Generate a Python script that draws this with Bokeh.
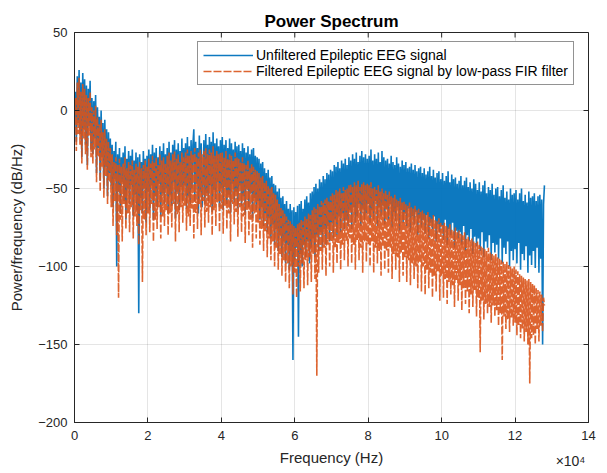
import math
from bokeh.plotting import figure
from bokeh.models import FixedTicker, Legend, LegendItem, Range1d, LinearAxis
from bokeh.embed import file_html
from bokeh.resources import INLINE

# ---------------- data ----------------
bin_step_hz = 250

unfiltered_db = [
    -5, 12, -20, 22, -8, 26, -15, 18, -30, 24, -12, 20, -22, 16, -35, 14, -10, 19, -25, 8,
    -28, 6, -18, 10, -40, 2, -24, -4, -45, 0, -30, -8, -50, -6, -36, -12, -55, -14, -40, -18,
    -48, -22, -62, -26, -44, -20, -100, -28, -52, -24, -66, -30, -46, -27, -58, -23, -70, -31, -50, -26,
    -60, -29, -48, -25, -68, -32, -54, -27, -64, -30, -130, -28, -56, -33, -66, -26, -50, -31, -72, -29,
    -52, -25, -64, -28, -48, -22, -70, -27, -55, -24, -62, -30, -47, -23, -68, -26, -53, -21, -60, -28,
    -50, -24, -66, -20, -54, -27, -61, -22, -46, -19, -69, -25, -52, -21, -64, -26, -49, -18, -58, -24,
    -48, -21, -63, -17, -55, -23, -60, -19, -50, -22, -12, -58, -20, -47, -24, -66, -16, -52, -21, -62,
    -45, -19, -60, -15, -53, -22, -58, -17, -48, -20, -65, -14, -51, -21, -57, -18, -46, -23, -62, -19,
    -50, -17, -64, -22, -49, -19, -60, -24, -54, -18, -66, -21, -47, -25, -59, -20, -52, -23, -63, -22,
    -48, -26, -61, -21, -55, -24, -67, -27, -50, -23, -62, -28, -53, -25, -69, -24, -56, -29, -64, -30,
    -58, -31, -70, -34, -62, -33, -74, -37, -66, -40, -78, -38, -69, -43, -82, -42, -73, -47, -86, -48,
    -76, -52, -90, -50, -80, -56, -94, -55, -84, -60, -98, -58, -86, -63, -102, -60, -90, -64, -160, -62,
    -96, -65, -88, -61, -145, -60, -92, -58, -100, -63, -86, -57, -94, -55, -84, -59, -98, -53, -88, -52,
    -82, -49, -94, -47, -80, -50, -90, -44, -78, -46, -88, -42, -76, -44, -86, -40, -74, -41, -84, -38,
    -72, -39, -82, -35, -70, -36, -80, -33, -68, -37, -78, -32, -66, -34, -76, -31, -70, -35, -74, -30,
    -64, -32, -76, -28, -62, -31, -72, -27, -68, -33, -60, -29, -74, -26, -63, -30, -70, -28, -66, -31,
    -60, -29, -72, -25, -64, -32, -70, -28, -58, -31, -74, -27, -62, -33, -68, -26, -61, -30, -73, -32,
    -63, -31, -70, -34, -60, -29, -75, -33, -65, -35, -71, -30, -62, -34, -77, -36, -64, -32, -72, -35,
    -66, -33, -74, -37, -63, -36, -78, -34, -68, -38, -73, -35, -65, -39, -80, -37, -69, -36, -75, -40,
    -70, -37, -79, -41, -67, -39, -82, -36, -72, -42, -76, -38, -68, -43, -84, -40, -73, -39, -78, -44,
    -74, -40, -83, -45, -70, -42, -86, -39, -76, -46, -80, -41, -72, -44, -88, -43, -77, -47, -82, -45,
    -78, -42, -86, -48, -74, -45, -90, -43, -80, -49, -84, -46, -76, -50, -92, -44, -81, -47, -87, -51,
    -82, -46, -90, -52, -78, -48, -94, -45, -84, -53, -88, -49, -80, -51, -96, -47, -85, -54, -91, -50,
    -86, -49, -95, -55, -82, -51, -98, -48, -88, -56, -92, -52, -84, -57, -100, -50, -90, -54, -96, -53,
    -89, -51, -98, -57, -85, -53, -102, -50, -92, -58, -96, -54, -87, -59, -104, -52, -93, -56, -99, -55,
    -90, -53, -101, -58, -88, -55, -104, -54, -95, -57, -150, -60, -48,
]

filtered_db = [
    -12, 8, -26, 18, -15, 21, -22, 12, -34, 17, -18, 14, -28, 10, -38, 8, -16, 12, -30, 2,
    -34, 0, -25, 3, -46, -4, -30, -9, -52, -6, -36, -14, -56, -12, -42, -18, -60, -20, -46, -24,
    -62, -28, -74, -33, -58, -30, -80, -35, -120, -31, -70, -36, -84, -34, -60, -30, -76, -37, -66, -33,
    -78, -35, -62, -32, -82, -38, -68, -34, -74, -36, -86, -33, -64, -37, -110, -35, -70, -32, -80, -36,
    -66, -31, -78, -34, -60, -29, -84, -33, -70, -30, -76, -35, -62, -28, -82, -32, -68, -30, -74, -34,
    -64, -29, -80, -27, -66, -32, -75, -28, -60, -26, -84, -31, -67, -28, -78, -33, -62, -27, -72, -30,
    -61, -27, -77, -25, -68, -29, -74, -26, -63, -28, -82, -24, -66, -30, -76, -27, -60, -25, -80, -28,
    -58, -26, -75, -24, -65, -28, -72, -25, -62, -27, -80, -23, -64, -29, -74, -26, -59, -28, -78, -27,
    -63, -27, -79, -30, -61, -26, -76, -31, -66, -28, -84, -29, -60, -32, -73, -27, -65, -30, -81, -31,
    -62, -33, -78, -30, -68, -34, -85, -35, -64, -32, -80, -37, -70, -34, -88, -36, -66, -38, -82, -39,
    -72, -40, -86, -43, -76, -42, -90, -46, -78, -45, -94, -48, -82, -50, -96, -49, -84, -53, -100, -54,
    -88, -57, -102, -60, -92, -62, -106, -64, -96, -66, -110, -68, -98, -70, -114, -71, -100, -73, -118, -74,
    -104, -75, -120, -73, -100, -72, -116, -70, -98, -71, -114, -68, -96, -69, -112, -66, -94, -67, -110, -64,
    -92, -62, -108, -63, -170, -60, -104, -61, -90, -58, -102, -59, -88, -57, -106, -56, -86, -58, -100, -55,
    -84, -53, -104, -54, -88, -51, -98, -52, -85, -50, -102, -53, -86, -49, -96, -51, -84, -50, -100, -48,
    -82, -47, -98, -49, -86, -46, -102, -48, -83, -45, -96, -49, -88, -47, -104, -46, -84, -48, -97, -47,
    -86, -48, -100, -46, -84, -50, -104, -49, -88, -51, -98, -48, -90, -52, -106, -50, -87, -53, -102, -51,
    -90, -54, -104, -52, -88, -55, -108, -56, -92, -54, -102, -57, -94, -58, -110, -56, -91, -59, -106, -58,
    -94, -60, -110, -61, -96, -59, -112, -62, -98, -63, -108, -61, -100, -64, -114, -63, -97, -65, -116, -64,
    -100, -66, -118, -67, -102, -65, -114, -68, -104, -69, -120, -67, -106, -70, -116, -71, -103, -69, -122, -72,
    -106, -73, -120, -72, -108, -74, -124, -75, -110, -73, -118, -76, -112, -77, -126, -75, -109, -78, -122, -77,
    -112, -79, -128, -80, -114, -78, -124, -82, -116, -81, -130, -83, -118, -82, -126, -84, -115, -85, -132, -84,
    -120, -86, -155, -87, -122, -88, -134, -89, -124, -90, -130, -88, -126, -91, -136, -92, -125, -93, -132, -92,
    -128, -94, -138, -95, -130, -96, -160, -97, -132, -98, -140, -97, -134, -99, -142, -100, -133, -101, -138, -100,
    -136, -102, -144, -103, -138, -105, -146, -106, -140, -107, -148, -108, -142, -109, -150, -108, -175, -110, -146, -111,
    -144, -112, -150, -114, -140, -115, -148, -116, -138, -118, -142, -120, -125,
]

freq_unfiltered_hz = [i * bin_step_hz for i in range(len(unfiltered_db))]
freq_filtered_hz = [i * bin_step_hz for i in range(len(filtered_db))]

x_ticks = [0, 20000, 40000, 60000, 80000, 100000, 120000, 140000]
x_tick_labels = ["0", "2", "4", "6", "8", "10", "12", "14"]
y_ticks = [-200, -150, -100, -50, 0, 50]

series_names = ["Unfiltered Epileptic EEG signal",
                "Filtered Epileptic EEG signal by low-pass FIR filter"]
x_label = "Frequency (Hz)"
x_exponent = "×10⁴"
y_label = "Power/frequency (dB/Hz)"

# ---------------- figure ----------------
FONT = "Liberation Sans"
INK = "#262626"

p = figure(width=607, height=473, output_backend="svg", toolbar_location=None,
           x_range=Range1d(0, 140000), y_range=Range1d(-200, 50),
           min_border_left=74, min_border_right=19, min_border_top=32, min_border_bottom=51,
           title="Power Spectrum")
p.title.align = "center"
p.title.text_font = FONT
p.title.text_font_size = "17px"
p.title.text_font_style = "bold"
p.title.text_color = "#000000"
p.title.standoff = 4

p.outline_line_color = INK
p.background_fill_color = "white"
p.border_fill_color = "white"

# inward box ticks on the top and right edges (MATLAB "box on")
p.ray(x=x_ticks, y=[p.y_range.end] * len(x_ticks), length=5, length_units="screen",
      angle=-math.pi / 2, line_color=INK, line_width=1)
p.ray(x=[p.x_range.end] * len(y_ticks), y=y_ticks, length=5, length_units="screen",
      angle=math.pi, line_color=INK, line_width=1)

r_blue = p.line(freq_unfiltered_hz, unfiltered_db, line_color="#0072BD", line_width=1.6,
                line_alpha=0.95)
r_orange = p.line(freq_filtered_hz, filtered_db, line_color="#D95319", line_width=1.6,
                  line_alpha=0.9, line_dash="8 2")

for ax in (p.xaxis[0], p.yaxis[0]):
    ax.axis_line_color = INK
    ax.major_tick_line_color = INK
    ax.major_tick_in = 5
    ax.major_tick_out = 0
    ax.minor_tick_line_color = None
    ax.major_label_text_font = FONT
    ax.major_label_text_color = INK
    ax.major_label_text_font_size = "13px"
    ax.axis_label_text_font = FONT
    ax.axis_label_text_color = INK
    ax.axis_label_text_font_style = "normal"
    ax.axis_label_text_font_size = "15px"

xa = p.xaxis[0]
xa.ticker = FixedTicker(ticks=x_ticks)
xa.major_label_overrides = dict(zip(x_ticks, x_tick_labels))
xa.axis_label = x_label
xa.major_label_standoff = 8
xa.axis_label_standoff = 6

ya = p.yaxis[0]
ya.ticker = FixedTicker(ticks=y_ticks)
ya.axis_label = y_label
ya.major_label_standoff = 7
ya.axis_label_standoff = 10

# the "x10^4" exponent marker: a bare second bottom axis carrying one label,
# pulled up onto the row of the axis title
exp_pos = 135100
exp_axis = LinearAxis(ticker=FixedTicker(ticks=[exp_pos]),
                      major_label_overrides={exp_pos: x_exponent})
exp_axis.axis_line_color = None
exp_axis.major_tick_line_color = None
exp_axis.minor_tick_line_color = None
exp_axis.major_tick_in = 0
exp_axis.major_tick_out = 0
exp_axis.major_label_text_font = FONT
exp_axis.major_label_text_color = INK
exp_axis.major_label_text_font_size = "14px"
exp_axis.major_label_standoff = -16
p.add_layout(exp_axis, "below")

p.xgrid.ticker = FixedTicker(ticks=x_ticks)
p.ygrid.ticker = FixedTicker(ticks=y_ticks)
for g in (p.xgrid[0], p.ygrid[0]):
    g.grid_line_color = INK
    g.grid_line_alpha = 0.12

legend = Legend(items=[LegendItem(label=series_names[0], renderers=[r_blue]),
                       LegendItem(label=series_names[1], renderers=[r_orange])],
                location=(123, 337))
legend.border_line_color = INK
legend.border_line_width = 1
legend.background_fill_alpha = 1
legend.label_text_font = FONT
legend.label_text_font_size = "14px"
legend.label_text_color = "#000000"
legend.glyph_width = 50
legend.glyph_height = 16
legend.label_standoff = 3
legend.label_height = 16
legend.spacing = 0
legend.padding = 5
legend.margin = 0
p.add_layout(legend, "center")

open("out.html", "w").write(file_html(p, INLINE))
